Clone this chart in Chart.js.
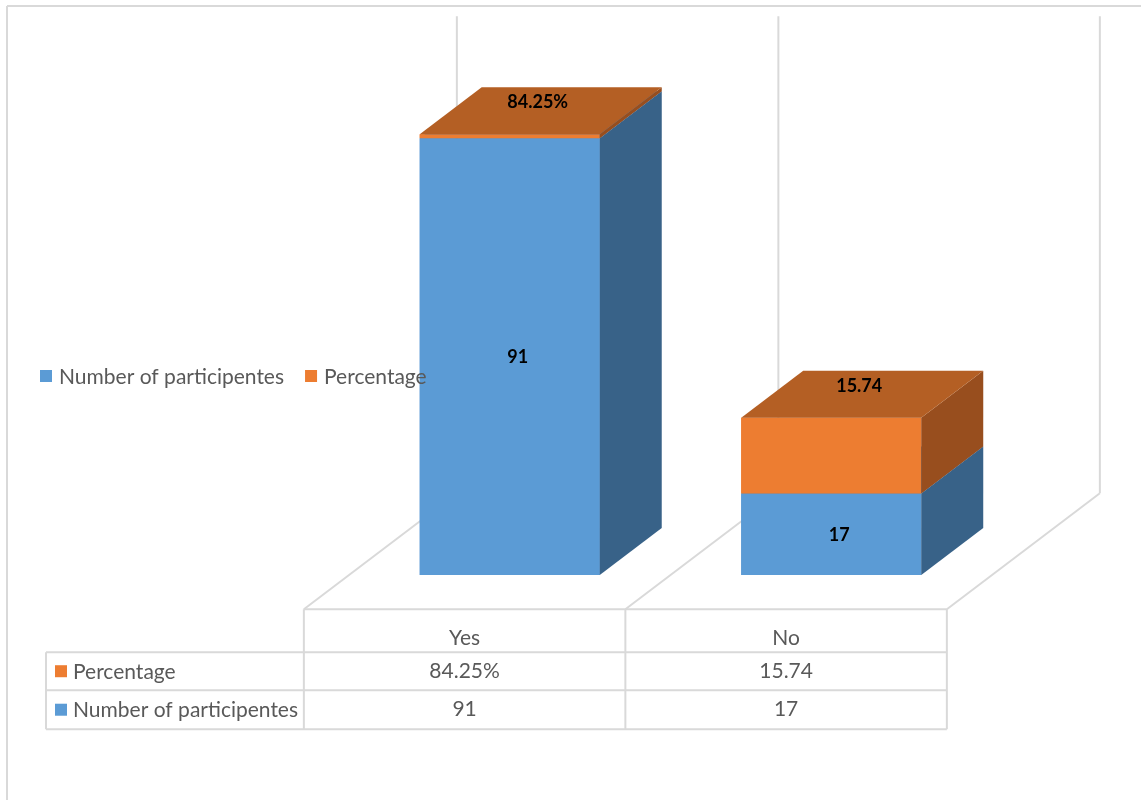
<!DOCTYPE html>
<html>
<head>
<meta charset="utf-8">
<title>Participants</title>
<script src="https://cdn.jsdelivr.net/npm/chart.js@4.4.0/dist/chart.umd.min.js"></script>
<style>
  body{margin:0;background:#fff;}
  canvas{display:block;}
</style>
</head>
<body>
<canvas id="chartCanvas" width="1141" height="800"></canvas>
<script>
//chart data
const categories=['Yes','No'];
const participants=[91,17];
const percentage=[0.8425,15.74];
//how each percentage cell is written (yes cell is a real percent, no cell a plain number)
const percentageFormats=['percent','number'];
const seriesNames=['Number of participentes','Percentage'];

//colours
const blue={front:'#5B9BD5',side:'#386288',top:'#4A80B2'};
const orange={front:'#ED7D31',side:'#984E1E',top:'#B45F24'};
const gridColor='#D9D9D9';
const textColor='#595959';
const font='Lato, Carlito, "Open Sans", sans-serif';

//3d look: full floor depth and where the bars sit in it
const depth={x:153,y:-116};
const barFront=0.295;
const barBack=0.70;

function formatValue(v,fmt){
    if(fmt==='percent') return (v*100).toFixed(2)+'%';
    return String(v);
}
function cellText(dsIndex,i){
    if(dsIndex===0) return String(participants[i]);
    return formatValue(percentage[i],percentageFormats[i]);
}

function line(ctx,x1,y1,x2,y2){
    ctx.beginPath();
    ctx.moveTo(x1,y1);
    ctx.lineTo(x2,y2);
    ctx.stroke();
}
function poly(ctx,pts,color){
    ctx.beginPath();
    ctx.moveTo(pts[0][0],pts[0][1]);
    for(let k=1;k<pts.length;k++) ctx.lineTo(pts[k][0],pts[k][1]);
    ctx.closePath();
    ctx.fillStyle=color;
    ctx.fill();
}

//category edges on the bars front plane
function categoryEdges(chart){
    const x=chart.scales.x;
    const catW=x.getPixelForValue(1)-x.getPixelForValue(0);
    const start=x.getPixelForValue(0)-catW/2;
    const edges=[];
    for(let i=0;i<=categories.length;i++) edges.push(start+i*catW);
    return edges;
}

const box3d={
    id:'box3d',
    beforeDatasetsDraw(chart){
        const {ctx,scales:{y}}=chart;
        const edges=categoryEdges(chart);
        const zero=y.getPixelForValue(0);
        const top=y.getPixelForValue(y.max);
        //offsets from the bar plane to the floor front and to the back wall
        const fx=-barFront*depth.x, fy=-barFront*depth.y;
        const bx=(1-barFront)*depth.x, by=(1-barFront)*depth.y;
        ctx.save();
        ctx.strokeStyle=gridColor;
        ctx.lineWidth=2;
        edges.forEach(e=>{
            //back wall line
            line(ctx,e+bx,top+by+3,e+bx,zero+by);
            //floor side line
            line(ctx,e+fx,zero+fy,e+bx,zero+by);
        });
        ctx.restore();
    },
    afterDatasetsDraw(chart){
        const {ctx}=chart;
        const dx=(barBack-barFront)*depth.x, dy=(barBack-barFront)*depth.y;
        const colors=[blue,orange];
        const n=chart.data.datasets.length;
        ctx.save();
        //paint boxes bottom up so upper boxes cover the lower top faces
        for(let i=0;i<categories.length;i++){
            for(let d=0;d<n;d++){
                const bar=chart.getDatasetMeta(d).data[i];
                const c=colors[d];
                const l=bar.x-bar.width/2, r=bar.x+bar.width/2;
                const t=Math.min(bar.y,bar.base), b=Math.max(bar.y,bar.base);
                poly(ctx,[[l,t],[r,t],[r,b],[l,b]],c.front);
                poly(ctx,[[r,t],[r+dx,t+dy],[r+dx,b+dy],[r,b]],c.side);
                poly(ctx,[[l,t],[r,t],[r+dx,t+dy],[l+dx,t+dy]],c.top);
            }
        }
        //value labels
        ctx.fillStyle='#000';
        ctx.font='bold 18px '+font;
        ctx.textAlign='center';
        ctx.textBaseline='middle';
        for(let i=0;i<categories.length;i++){
            for(let d=0;d<n;d++){
                const bar=chart.getDatasetMeta(d).data[i];
                const t=Math.min(bar.y,bar.base), b=Math.max(bar.y,bar.base);
                if(d===n-1){
                    //top segment: label sits on the top face
                    ctx.fillText(cellText(d,i),bar.x+dx/2-3,t+dy/2-8);
                }else{
                    ctx.fillText(cellText(d,i),bar.x+8,(t+b)/2+1);
                }
            }
        }
        ctx.restore();
    },
    afterDraw(chart){
        const {ctx,scales:{y}}=chart;
        const edges=categoryEdges(chart);
        const fx=-barFront*depth.x, fy=-barFront*depth.y;
        const tableTop=y.getPixelForValue(0)+fy;
        const cols=edges.map(e=>e+fx);
        const tableLeft=46;
        const rows=[tableTop,tableTop+43,tableTop+81,tableTop+120];
        ctx.save();
        //outer border
        ctx.strokeStyle=gridColor;
        ctx.lineWidth=2;
        line(ctx,7,6,1141,6);
        line(ctx,7,6,7,800);
        //data table grid
        line(ctx,cols[0],rows[0],cols[cols.length-1],rows[0]);
        for(let r=1;r<rows.length;r++) line(ctx,tableLeft,rows[r],cols[cols.length-1],rows[r]);
        line(ctx,tableLeft,rows[1],tableLeft,rows[3]);
        cols.forEach(cx=>line(ctx,cx,rows[0],cx,rows[3]));

        ctx.font='21px '+font;
        ctx.fillStyle=textColor;
        ctx.textBaseline='middle';
        ctx.textAlign='center';
        for(let i=0;i<categories.length;i++){
            const cx=(cols[i]+cols[i+1])/2;
            ctx.fillText(categories[i],cx,rows[0]+29);
            ctx.fillText(cellText(1,i),cx,(rows[1]+rows[2])/2);
            ctx.fillText(cellText(0,i),cx,(rows[2]+rows[3])/2);
        }
        //row headers with legend keys, percentage first
        ctx.textAlign='left';
        const rowSeries=[1,0];
        const keyColors=[blue.front,orange.front];
        rowSeries.forEach((s,k)=>{
            const cy=(rows[k+1]+rows[k+2])/2;
            ctx.fillStyle=keyColors[s];
            ctx.fillRect(55,cy-6,12,12);
            ctx.fillStyle=textColor;
            ctx.fillText(seriesNames[s],73,cy+1);
        });

        //legend
        let lx=40;
        const ly=376;
        seriesNames.forEach((name,s)=>{
            ctx.fillStyle=keyColors[s];
            ctx.fillRect(lx,ly-6,12,12);
            ctx.fillStyle=textColor;
            ctx.fillText(name,lx+19,ly+1);
            lx+=19+ctx.measureText(name).width+21;
        });
        ctx.restore();
    }
};

const ctx=document.getElementById('chartCanvas');
const myChart=new Chart(ctx,{
    type:'bar',
    data:{
        labels:categories,
        datasets:[
            {label:seriesNames[0],data:participants,backgroundColor:blue.front},
            {label:seriesNames[1],data:percentage,backgroundColor:orange.front}
        ]
    },
    options:{
        responsive:false,
        animation:false,
        layout:{padding:{left:349,right:149,top:95,bottom:225}},
        datasets:{bar:{barPercentage:1,categoryPercentage:0.56}},
        scales:{
            x:{stacked:true,display:false,offset:true},
            y:{stacked:true,display:false,min:0,max:100}
        },
        plugins:{
            legend:{display:false},
            tooltip:{enabled:false}
        }
    },
    plugins:[box3d]
});
</script>
</body>
</html>
